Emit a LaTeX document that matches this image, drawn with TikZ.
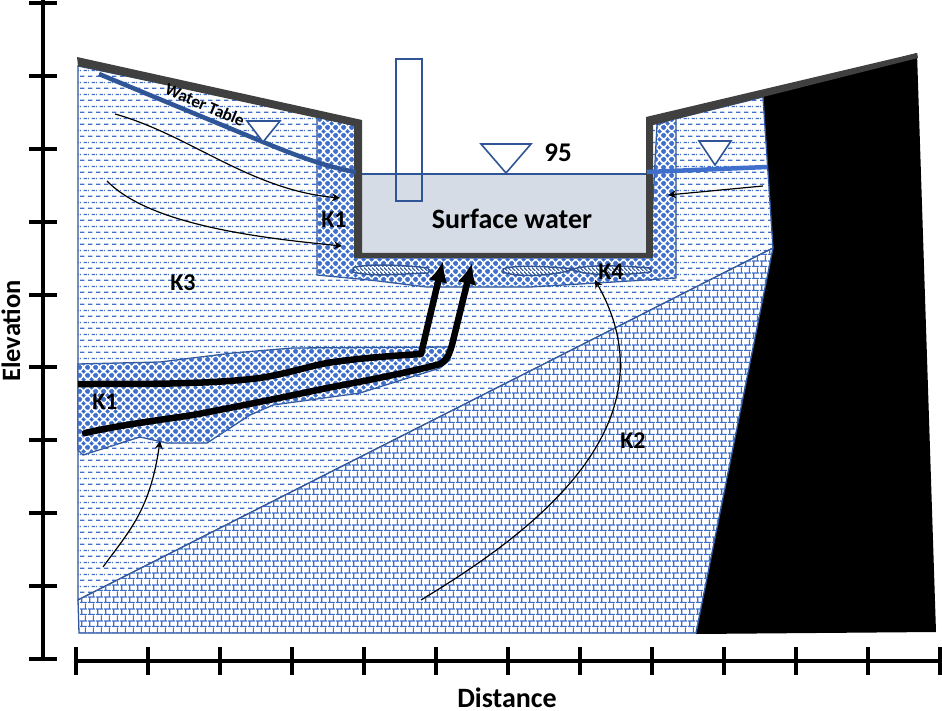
\documentclass[tikz,border=0pt]{standalone}
\usepackage{fontspec}
\setmainfont{Carlito}
\usetikzlibrary{patterns}
\usetikzlibrary{arrows.meta}
\definecolor{cblue}{HTML}{3F6FCB}
\definecolor{cnavy}{HTML}{2F5597}
\definecolor{cwall}{HTML}{404040}
\definecolor{cwater}{HTML}{D6DCE5}
\newcommand{\Dmd}[2]{%
  \pgfpathmoveto{\pgfpoint{#1pt-2.55pt}{#2pt}}\pgfpathlineto{\pgfpoint{#1pt}{#2pt+2.55pt}}
  \pgfpathlineto{\pgfpoint{#1pt+2.55pt}{#2pt}}\pgfpathlineto{\pgfpoint{#1pt}{#2pt-2.55pt}}\pgfpathclose}
\pgfdeclarepatternformonly{soildash}{\pgfqpoint{0pt}{0pt}}{\pgfqpoint{8pt}{11.6pt}}{\pgfqpoint{8pt}{11.6pt}}{%
  \pgfsetlinewidth{1.3pt}
  \pgfpathmoveto{\pgfqpoint{0pt}{2.9pt}}\pgfpathlineto{\pgfqpoint{5pt}{2.9pt}}
  \pgfpathmoveto{\pgfqpoint{4pt}{8.7pt}}\pgfpathlineto{\pgfqpoint{8pt}{8.7pt}}
  \pgfpathmoveto{\pgfqpoint{0pt}{8.7pt}}\pgfpathlineto{\pgfqpoint{1pt}{8.7pt}}
  \pgfusepath{stroke}}
\pgfdeclarepatternformonly{soilbrick}{\pgfqpoint{0pt}{0pt}}{\pgfqpoint{8pt}{12pt}}{\pgfqpoint{8pt}{12pt}}{%
  \pgfsetlinewidth{1.3pt}
  \pgfpathmoveto{\pgfqpoint{0pt}{0.5pt}}\pgfpathlineto{\pgfqpoint{8pt}{0.5pt}}
  \pgfpathmoveto{\pgfqpoint{0pt}{6.5pt}}\pgfpathlineto{\pgfqpoint{8pt}{6.5pt}}
  \pgfpathmoveto{\pgfqpoint{2pt}{0.5pt}}\pgfpathlineto{\pgfqpoint{2pt}{6.5pt}}
  \pgfpathmoveto{\pgfqpoint{6pt}{6.5pt}}\pgfpathlineto{\pgfqpoint{6pt}{12.5pt}}
  \pgfusepath{stroke}}
\pgfdeclarepatternformonly{soildiamond}{\pgfqpoint{0pt}{0pt}}{\pgfqpoint{8pt}{8pt}}{\pgfqpoint{8pt}{8pt}}{%
  \Dmd{0}{0}\Dmd{8}{0}\Dmd{0}{8}\Dmd{8}{8}\Dmd{4}{4}
  \pgfusepath{fill}}
\pgfdeclarepatternformonly{soilhatch}{\pgfqpoint{0pt}{0pt}}{\pgfqpoint{4pt}{4pt}}{\pgfqpoint{4pt}{4pt}}{%
  \pgfsetlinewidth{1.3pt}
  \pgfpathmoveto{\pgfqpoint{-1pt}{5pt}}\pgfpathlineto{\pgfqpoint{5pt}{-1pt}}
  \pgfusepath{stroke}}
\tikzset{
  zone/.style={draw=cnavy,line width=1.3pt,fill=white},
  lens/.style={draw=cnavy,line width=1.5pt,fill=white,postaction={pattern=soilhatch,pattern color=cnavy}},
  flow/.style={black,line width=1.2pt,-{Stealth[length=8pt,width=8pt]}},
  seep/.style={black,line width=6.5pt,line join=round,-{Latex[length=21pt,width=19pt]}},
  wtable/.style={draw=cnavy,line width=1.6pt,fill=white},
  tickline/.style={black,line width=3.6pt},
  lbl/.style={inner sep=0pt,font=\bfseries\fontsize{24}{24}\selectfont},
}
\begin{document}
\begin{tikzpicture}[x=1pt,y=-1pt]
\useasboundingbox (0,0) rectangle (942,711);
\fill[white] (0,0) rectangle (942,711);

%%%%%%%%%%%%%%%%%%%%%%%%%%%%%%%%%%%%%%%%%%%%%%%%%%%%%%%%%%%%%% bedrock
\fill[black] (762,96) -- (917,53) -- (936,632) -- (696,634) -- (773,248) -- cycle;

%%%%%%%%%%%%%%%%%%%%%%%%%%%%%%%%%%%%%%%%%%%%%%%%%%%%%%%%%%%%%% soil zones
\draw[zone,postaction={pattern=soildash,pattern color=cblue}] (78,66) -- (354,123) -- (354,258) -- (650,258) -- (650,125) -- (763,97) -- (773,248) -- (78,600) -- cycle;
\draw[zone,postaction={pattern=soilbrick,pattern color=cblue}] (78,600) -- (773,248) -- (696,633) -- (79,633) -- cycle;
\draw[zone,postaction={pattern=soildiamond,pattern color=cblue}] (317,117) -- (356,125) -- (356,258) -- (650,258) -- (657,125) -- (676,118) -- (676,278) -- (613,282) -- (530,287) -- (427,287) -- (370,280) -- (317,275) -- cycle;
\draw[zone,postaction={pattern=soildiamond,pattern color=cblue}] (78,364) -- (160,362) -- (233,353) -- (293,348) -- (450,347) -- (450,360) -- (440,368) -- (360,393) -- (273,405) -- (250,415) -- (207,443) -- (167,443) -- (140,437) -- (83,455) -- (78,450) -- cycle;
\draw[lens] (353,268) .. controls (362,264) and (395,264) .. (428,268) .. controls (430,270) and (430,272) .. (428,273) .. controls (400,274) and (370,277) .. (353,272) -- cycle;
\draw[lens] (503,269) .. controls (512,265) and (545,266) .. (575,269) .. controls (550,277) and (515,277) .. (503,272) -- cycle;
\draw[lens] (573,269) .. controls (590,264) and (625,266) .. (650,268) .. controls (652,270) and (652,272) .. (650,272) .. controls (620,276) and (590,276) .. (573,270) -- cycle;

%%%%%%%%%%%%%%%%%%%%%%%%%%%%%%%%%%%%%%%%%%%%%%%%%%%%%%%%%%%%%% surface water
\fill[cwater] (361,174) rectangle (646,254);
\draw[cnavy,line width=1.5pt] (361,174) -- (646,174);
\draw[cnavy,line width=1.5pt] (396,59) rectangle (422,201);
\fill[cwall] (77,57) -- (362,120) -- (362,253) -- (646,253) -- (646,117) -- (917,53) -- (918,58) -- (763,97) -- (653,125) -- (653,258) -- (354,258) -- (354,126) -- (78,66) -- cycle;

%%%%%%%%%%%%%%%%%%%%%%%%%%%%%%%%%%%%%%%%%%%%%%%%%%%%%%%%%%%%%% water table
\draw[cnavy,line width=4.5pt] (99,74) -- (263,142) .. controls (290,153) and (325,167) .. (356,172);
\draw[cblue,line width=4.5pt] (647,172) -- (767,167);
\draw[wtable] (247,121) -- (280,121) -- (263,142) -- cycle;
\draw[wtable] (481,144) -- (531,144) -- (506,173) -- cycle;
\draw[wtable] (699,141) -- (731,141) -- (715,165) -- cycle;

%%%%%%%%%%%%%%%%%%%%%%%%%%%%%%%%%%%%%%%%%%%%%%%%%%%%%%%%%%%%%% flow arrows
\draw[flow] (115,114) .. controls (190,135) and (250,190) .. (340,198);
\draw[flow] (107,181) .. controls (150,225) and (260,238) .. (342,246);
\draw[flow] (763,186) -- (668,195);
\draw[flow] (103,567) .. controls (130,530) and (150,510) .. (160,441);
\draw[flow] (421,600) .. controls (520,540) and (680,430) .. (595,280);
\draw[seep] (78,384) .. controls (160,384) and (210,384) .. (260,378) .. controls (290,373) and (310,366) .. (327,363) .. controls (360,358) and (390,356) .. (421,354) -- (443,261);
\draw[seep,line cap=round] (85,433) .. controls (120,425) and (160,420) .. (193,415) .. controls (240,406) and (280,398) .. (327,388) .. controls (370,380) and (410,372) .. (440,364) .. controls (447,360) and (449,355) .. (452,345) -- (472,263);

%%%%%%%%%%%%%%%%%%%%%%%%%%%%%%%%%%%%%%%%%%%%%%%%%%%%%%%%%%%%%% axes
\draw[tickline] (43,0) -- (43,660);
\foreach \y in {3,76,149,222,295,367,440,513,586,659}
\draw[tickline] (29,\y) -- (57,\y);
\draw[tickline] (75,661) -- (942,661);
\foreach \x in {76,148,220,292,364,436,508,580,652,724,796,868,940}
\draw[tickline] (\x,647) -- (\x,675);

%%%%%%%%%%%%%%%%%%%%%%%%%%%%%%%%%%%%%%%%%%%%%%%%%%%%%%%%%%%%%% labels
\node[lbl,rotate=90,font=\bfseries\fontsize{26.5}{27}\selectfont] (elev) at (11,331) {Elevation};
\node[lbl,font=\bfseries\fontsize{28}{28}\selectfont] (dist) at (507,698) {Distance};
\node[lbl] (kone) at (334,220) {K1};
\node[lbl] (kthree) at (183,283) {K3};
\node[lbl] (konelow) at (105,402) {K1};
\node[lbl] (kfour) at (611,272) {K4};
\node[lbl] (ktwo) at (633,441) {K2};
\node[lbl,font=\bfseries\fontsize{27}{27}\selectfont] (level) at (558,153) {95};
\node[lbl,font=\bfseries\fontsize{28}{28}\selectfont] (water) at (512,219) {Surface water};
\node[lbl,font=\bfseries\fontsize{17}{17}\selectfont,rotate=-23] (wt) at (205,105) {Water Table};
\end{tikzpicture}
\end{document}
